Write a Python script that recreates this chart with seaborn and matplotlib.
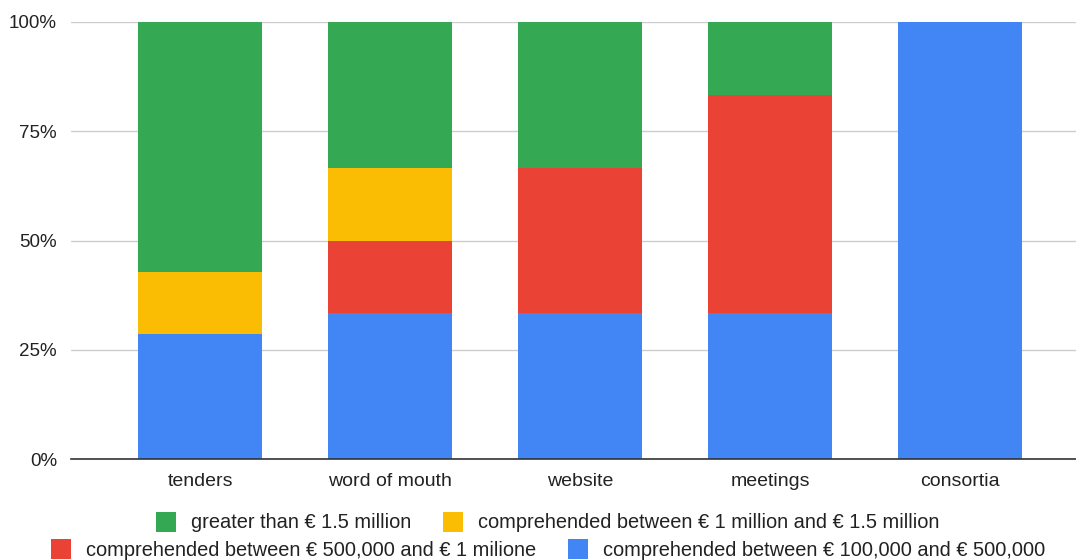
import matplotlib
matplotlib.use("Agg")
import matplotlib.pyplot as plt
from matplotlib.patches import Patch
import seaborn as sns
import pandas as pd

categories = ["tenders", "word of mouth", "website", "meetings", "consortia"]
series_names = [
    "comprehended between € 100,000 and € 500,000",
    "comprehended between € 500,000 and € 1 milione",
    "comprehended between € 1 million and € 1.5 million",
    "greater than € 1.5 million",
]
blue_vals = [28.57, 33.33, 33.33, 33.33, 100.0]
red_vals = [0.0, 16.67, 33.33, 50.0, 0.0]
yellow_vals = [14.29, 16.67, 0.0, 0.0, 0.0]
green_vals = [57.14, 33.33, 33.33, 16.67, 0.0]
y_ticks = [0, 25, 50, 75, 100]
y_tick_labels = ["0%", "25%", "50%", "75%", "100%"]

colors = ["#4285F4", "#EA4335", "#FBBC04", "#34A853"]

sns.set_theme(style="white")
plt.rcParams["font.family"] = ["Liberation Sans", "DejaVu Sans"]

fig = plt.figure(figsize=(10.76, 5.6), dpi=100)
ax = fig.add_axes([71 / 1076, 101 / 560, 1 - 71 / 1076, 437 / 560])

series = [blue_vals, red_vals, yellow_vals, green_vals]
bottom = [0.0] * len(categories)
for name, vals, col in zip(series_names, series, colors):
    df = pd.DataFrame({"cat": categories, "val": vals})
    sns.barplot(data=df, x="cat", y="val", order=categories, color=col,
                saturation=1, width=0.65, bottom=bottom, linewidth=0,
                errorbar=None, ax=ax, zorder=3)
    bottom = [b + v for b, v in zip(bottom, vals)]

ax.set_ylim(0, 100)
ax.set_xlim((71 - 200) / 190, (1076 - 200) / 190)
ax.set_yticks(y_ticks)
ax.set_yticklabels(y_tick_labels)
ax.set_xlabel("")
ax.set_ylabel("")
ax.yaxis.grid(True, color="#CCCCCC", linewidth=1, zorder=0)
ax.xaxis.grid(False)
for s in ["top", "right", "left"]:
    ax.spines[s].set_visible(False)
ax.spines["bottom"].set_color("#333333")
ax.spines["bottom"].set_linewidth(1.2)
ax.spines["bottom"].set_zorder(4)
ax.tick_params(axis="y", length=0, pad=10, labelsize=13.5, labelcolor="#222222")
ax.tick_params(axis="x", length=0, pad=10, labelsize=14, labelcolor="#222222")

def legend_row(items, ypos):
    handles = [Patch(facecolor=c, edgecolor="none", label=l) for l, c in items]
    leg = fig.legend(handles=handles, loc="center", bbox_to_anchor=(548 / 1076, ypos),
                     ncol=len(handles), frameon=False, fontsize=14.4,
                     handlelength=1.0, handleheight=1.2, handletextpad=0.75,
                     columnspacing=1.6, labelcolor="#222222",
                     borderpad=0, borderaxespad=0)
    return leg

legend_row([(series_names[3], colors[3]), (series_names[2], colors[2])], 1 - 522 / 560)
legend_row([(series_names[1], colors[1]), (series_names[0], colors[0])], 1 - 549 / 560)

fig.savefig("out.png", dpi=100)
